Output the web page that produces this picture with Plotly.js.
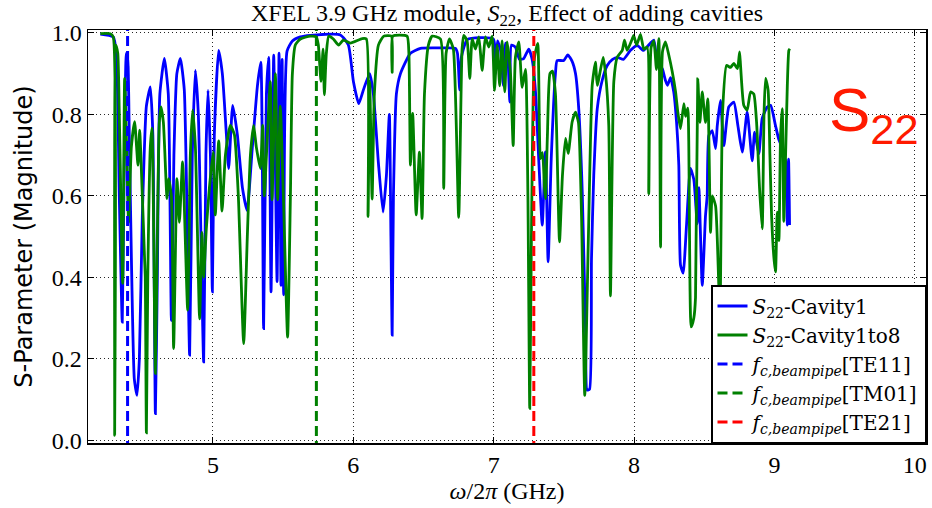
<!DOCTYPE html>
<html>
<head>
<meta charset="utf-8">
<script src="https://cdn.plot.ly/plotly-3.0.1.min.js"></script>
<style>html,body{margin:0;padding:0;background:#fff;}#chart{width:932px;height:508px;}</style>
</head>
<body>
<div id="chart"></div>
<script>
// ---------- data ----------
const cavity1Freq = [4.198,4.290,4.312,4.333,4.354,4.369,4.383,4.394,4.404,4.419,4.440,4.459,4.476,4.497,4.526,4.554,4.572,4.590,4.604,4.622,4.654,4.682,4.704,4.722,4.743,4.768,4.796,4.834,4.853,4.875,4.896,4.934,4.950,4.965,4.982,4.996,5.010,5.041,5.067,5.096,5.112,5.141,5.174,5.210,5.243,5.281,5.317,5.341,5.361,5.381,5.397,5.414,5.433,5.457,5.471,5.485,5.493,5.504,5.528,5.566,5.623,5.694,5.908,5.965,6.001,6.039,6.072,6.117,6.143,6.179,6.212,6.236,6.257,6.268,6.277,6.286,6.307,6.336,6.407,6.478,6.621,6.728,6.742,6.758,6.770,6.813,6.998,7.013,7.027,7.048,7.070,7.084,7.098,7.115,7.127,7.155,7.184,7.214,7.250,7.274,7.298,7.321,7.346,7.369,7.388,7.410,7.440,7.452,7.499,7.528,7.559,7.583,7.606,7.631,7.654,7.666,7.683,7.697,7.713,7.738,7.773,7.809,7.847,7.880,7.925,7.975,8.023,8.067,8.117,8.141,8.165,8.201,8.224,8.238,8.260,8.283,8.303,8.319,8.331,8.350,8.374,8.402,8.426,8.450,8.462,8.486,8.509,8.521,8.533,8.557,8.581,8.593,8.616,8.640,8.675,8.711,8.740,8.771,8.806,8.842,8.859,8.889,8.913,8.949,8.973,9.008,9.030,9.051,9.065,9.079,9.092,9.101,9.108];
const cavity1Mag  = [0.997,0.99,0.95,0.6,0.29,0.7,0.95,0.93,0.75,0.45,0.15,0.11,0.2,0.55,0.82,0.867,0.75,0.065,0.4,0.85,0.937,0.85,0.294,0.7,0.9,0.937,0.86,0.209,0.7,0.908,0.8,0.192,0.7,0.859,0.7,0.364,0.75,0.957,0.9,0.75,0.667,0.822,0.75,0.62,0.564,0.72,0.87,0.928,0.274,0.85,0.94,0.364,0.945,0.389,0.95,0.38,0.935,0.357,0.955,0.98,0.99,0.994,0.995,0.97,0.88,0.826,0.86,0.9,0.85,0.68,0.56,0.65,0.8,0.5,0.258,0.6,0.85,0.9,0.95,0.962,0.963,0.962,0.95,0.86,0.94,0.984,0.985,0.9,0.98,0.96,0.87,0.975,0.96,0.83,0.97,0.965,0.935,0.937,0.96,0.935,0.855,0.69,0.528,0.708,0.438,0.69,0.9,0.932,0.932,0.946,0.93,0.9,0.814,0.61,0.28,0.123,0.125,0.446,0.65,0.814,0.883,0.92,0.935,0.94,0.935,0.957,0.969,0.957,0.975,0.982,0.93,0.912,0.883,0.871,0.89,0.855,0.78,0.675,0.43,0.41,0.528,0.667,0.64,0.531,0.62,0.38,0.55,0.6,0.748,0.76,0.716,0.772,0.834,0.723,0.818,0.83,0.772,0.707,0.806,0.686,0.756,0.703,0.79,0.818,0.822,0.772,0.74,0.72,0.69,0.688,0.528,0.69,0.528];

const cavity1to8Freq = [4.198,4.269,4.290,4.300,4.308,4.322,4.333,4.357,4.371,4.383,4.399,4.419,4.442,4.466,4.478,4.497,4.513,4.518,4.526,4.536,4.554,4.566,4.575,4.590,4.604,4.618,4.630,4.647,4.673,4.684,4.704,4.720,4.744,4.761,4.784,4.820,4.839,4.855,4.875,4.905,4.922,4.934,4.953,4.975,5.001,5.017,5.041,5.065,5.089,5.124,5.153,5.181,5.219,5.245,5.267,5.290,5.309,5.338,5.354,5.366,5.388,5.409,5.421,5.445,5.461,5.480,5.502,5.532,5.552,5.566,5.587,5.623,5.694,5.737,5.751,5.770,5.785,5.794,5.808,5.825,5.858,5.896,5.929,5.979,6.063,6.093,6.105,6.117,6.134,6.150,6.179,6.217,6.271,6.277,6.282,6.383,6.396,6.407,6.423,6.448,6.471,6.490,6.507,6.535,6.562,6.621,6.644,6.661,6.685,6.713,6.751,6.775,6.787,6.811,6.830,6.847,6.870,6.894,6.918,6.941,6.965,6.989,7.006,7.025,7.043,7.060,7.079,7.096,7.120,7.139,7.155,7.179,7.203,7.227,7.244,7.257,7.269,7.291,7.314,7.333,7.348,7.362,7.369,7.383,7.401,7.419,7.440,7.469,7.490,7.512,7.531,7.559,7.583,7.604,7.626,7.649,7.675,7.702,7.725,7.738,7.780,7.797,7.820,7.832,7.856,7.880,7.916,7.932,7.951,7.987,7.998,8.018,8.046,8.070,8.094,8.105,8.122,8.141,8.160,8.177,8.189,8.203,8.224,8.248,8.272,8.296,8.312,8.331,8.355,8.367,8.383,8.407,8.426,8.438,8.454,8.469,8.486,8.509,8.526,8.545,8.557,8.581,8.604,8.613,8.630,8.659,8.687,8.711,8.737,8.752,8.759,8.782,8.806,8.830,8.853,8.873,8.894,8.913,8.926,8.937,8.955,8.968,8.980,8.996,9.008,9.020,9.032,9.044,9.056,9.067,9.079,9.092,9.103,9.110];
const cavity1to8Mag  = [0.998,0.998,0.99,0.012,0.97,0.95,0.8,0.385,0.888,0.75,0.535,0.72,0.782,0.675,0.761,0.6,0.446,0.4,0.018,0.4,0.72,0.766,0.6,0.164,0.5,0.78,0.818,0.78,0.593,0.642,0.6,0.225,0.642,0.535,0.683,0.319,0.7,0.81,0.72,0.298,0.51,0.40,0.52,0.62,0.707,0.553,0.735,0.5625,0.7,0.773,0.75,0.6,0.237,0.5,0.7,0.773,0.72,0.667,0.773,0.6,0.75,0.88,0.59,0.9,0.59,0.82,0.6,0.253,0.6,0.9,0.97,0.985,0.992,0.99,0.97,0.881,0.96,0.848,0.95,0.992,0.985,0.97,0.982,0.975,0.986,0.985,0.549,0.88,0.592,0.85,0.97,0.992,0.992,0.903,0.992,0.992,0.95,0.675,0.802,0.553,0.707,0.544,0.85,0.97,0.992,0.985,0.618,0.95,0.985,0.96,0.547,0.96,0.994,0.98,0.888,0.985,0.96,0.99,0.908,0.99,0.965,0.992,0.859,0.97,0.87,0.98,0.855,0.978,0.9,0.723,0.94,0.978,0.866,0.91,0.6,0.078,0.5,0.94,0.974,0.691,0.706,0.62,0.593,0.75,0.9,0.906,0.85,0.487,0.65,0.741,0.704,0.781,0.805,0.78,0.55,0.11,0.5,0.871,0.928,0.871,0.94,0.9,0.773,0.354,0.88,0.94,0.957,0.982,0.957,0.985,0.994,0.97,0.996,0.96,0.965,0.605,0.965,0.98,0.91,0.986,0.474,0.955,0.978,0.945,0.905,0.855,0.805,0.765,0.826,0.795,0.815,0.278,0.3,0.35,0.887,0.78,0.855,0.78,0.838,0.51,0.6,0.575,0.38,0.33,0.8,0.92,0.915,0.925,0.912,0.953,0.919,0.822,0.81,0.855,0.85,0.78,0.62,0.519,0.8,0.888,0.86,0.7,0.55,0.45,0.413,0.56,0.49,0.75,0.814,0.537,0.69,0.871,0.957,0.961];

// beam-pipe cutoff frequencies (GHz)
const cutoffNames = ['TE11','TM01','TE21'];
const cutoffFreq  = [4.392, 5.737, 7.286];
const cutoffColors = ['#0000ff','#008000','#ff0000'];

const xTicks = [5,6,7,8,9,10];
const yTicks = [0.0,0.2,0.4,0.6,0.8,1.0];
const yTickText = ['0.0','0.2','0.4','0.6','0.8','1.0'];

// ---------- chart ----------
const serif = 'Liberation Serif, DejaVu Serif, serif';
const traces = [
  {x: cavity1Freq, y: cavity1Mag, type:'scatter', mode:'lines',
   name:'<i>S</i><sub>22</sub>-Cavity1', line:{color:'#0000ff', width:2.8, shape:'spline', smoothing:0.5}},
  {x: cavity1to8Freq, y: cavity1to8Mag, type:'scatter', mode:'lines',
   name:'<i>S</i><sub>22</sub>-Cavity1to8', line:{color:'#008000', width:2.8, shape:'spline', smoothing:0.5}}
];
cutoffFreq.forEach((f,i)=>{
  traces.push({x:[f,f], y:[-0.1,1.1], type:'scatter', mode:'lines',
    name:'<i>f</i><sub><i>c,beampipe</i></sub>['+cutoffNames[i]+']',
    line:{color:cutoffColors[i], width:3, dash:'10px,5px'}});
});

const gridStyle = {showgrid:true, gridcolor:'rgba(0,0,0,0.85)', gridwidth:1, griddash:'1px,3px'};
const layout = {
  width:932, height:508,
  margin:{l:88, r:6, t:30, b:65},
  paper_bgcolor:'#ffffff', plot_bgcolor:'#ffffff',
  showlegend:true,
  title:{text:'XFEL 3.9 GHz module, <i>S</i><sub>22</sub>, Effect of adding cavities',
         font:{family:serif, size:24, color:'#000'},
         x:0.5, xref:'paper', xanchor:'center', y:0.975, yref:'container', yanchor:'middle'},
  xaxis:Object.assign({range:[4.11,10.08], tickmode:'array', tickvals:xTicks, ticktext:xTicks.map(String),
    ticks:'inside', ticklen:6, tickwidth:1, tickcolor:'#000',
    showline:true, linecolor:'#000', linewidth:1.5, mirror:'ticks', zeroline:false,
    automargin:false,
    tickfont:{family:serif, size:24, color:'#000'},
    title:{text:'<i>ω</i>/2<i>π</i> (GHz)', font:{family:serif, size:24, color:'#000'}, standoff:0}}, gridStyle),
  yaxis:Object.assign({range:[-0.007,1.007], tickmode:'array', tickvals:yTicks, ticktext:yTickText,
    ticks:'inside', ticklen:6, tickwidth:1, tickcolor:'#000',
    showline:true, linecolor:'#000', linewidth:1.5, mirror:'ticks', zeroline:false,
    automargin:false,
    tickfont:{family:serif, size:24, color:'#000'},
    title:{text:'S-Parameter (Magnitude)', font:{family:'DejaVu Sans, sans-serif', size:24, color:'#000'}, standoff:12}}, gridStyle),
  legend:{x:1, xref:'paper', xanchor:'right', y:0, yref:'paper', yanchor:'bottom',
    bgcolor:'#ffffff', bordercolor:'#000', borderwidth:1.5,
    font:{family:'DejaVu Serif, serif', size:20, color:'#000'}, tracegroupgap:0, itemwidth:30},
  annotations:[{text:'S<sub>22</sub>', xref:'x', yref:'y', x:9.71, y:0.80,
    xanchor:'center', yanchor:'middle', showarrow:false,
    font:{family:'Liberation Sans, Arial, sans-serif', size:62, color:'#ff1a00'}}]
};
Plotly.newPlot('chart', traces, layout, {displayModeBar:false, staticPlot:true});
</script>
</body>
</html>
